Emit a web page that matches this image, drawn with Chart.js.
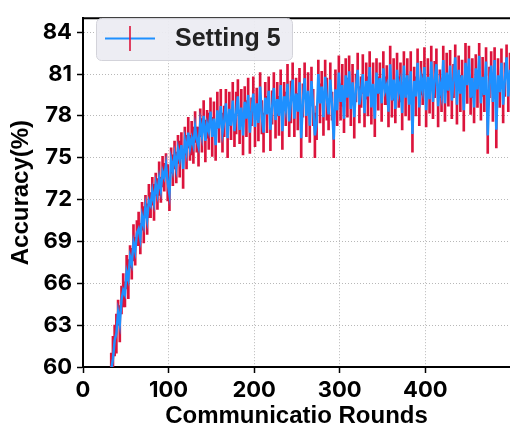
<!DOCTYPE html>
<html><head><meta charset="utf-8">
<script src="https://cdn.jsdelivr.net/npm/chart.js@4.4.1/dist/chart.umd.min.js"></script>
<style>html,body{margin:0;padding:0;background:#fff}canvas{display:block}</style>
</head><body>
<canvas id="c" width="510" height="431"></canvas>
<script>
const firstRound = 29;
const roundStep = 2;
const accuracy = [
56.8,58.3,59.8,60.6,61.9,62.4,63.9,63.1,64.8,65.5,
65.2,66.8,66.3,67.9,67.4,68.9,68.3,69.6,69.9,69.2,
70.8,70.2,71.5,70.6,71.9,71.6,72.6,71.8,73.1,72.4,
73.5,72.7,74.0,73.6,74.5,73.2,72.4,74.8,74.1,75.2,
74.3,75.6,74.9,75.9,74.2,76.2,75.4,76.8,75.7,76.4,
75.9,77.2,76.3,75.8,77.5,76.6,78.0,76.2,77.4,76.9,
78.3,76.5,77.8,75.9,78.4,77.1,78.7,76.8,77.6,78.9,
76.4,78.5,77.3,79.1,76.9,78.2,79.4,77.0,78.6,76.6,
79.0,77.8,79.5,76.8,78.3,79.6,77.2,78.9,77.5,80.1,
77.9,76.8,79.3,78.1,79.8,77.0,78.6,80.0,77.7,79.2,
78.0,80.2,76.9,79.4,78.5,80.3,77.6,79.0,80.6,77.8,
79.6,78.3,80.4,76.4,79.1,80.7,78.0,79.8,77.3,80.5,
78.6,76.6,77.5,81.0,78.9,80.1,77.9,80.8,79.2,78.1,
80.6,78.7,76.3,79.9,78.4,81.1,79.0,80.2,77.8,80.9,
79.3,81.2,78.5,80.4,77.9,80.0,81.3,78.8,79.7,81.0,
78.2,80.5,79.4,81.5,78.6,80.3,77.8,81.1,79.6,80.7,
78.9,81.4,79.8,80.2,78.3,81.7,79.1,80.6,78.5,81.3,
79.7,80.4,78.2,81.6,79.3,80.9,78.8,81.2,76.7,80.5,
79.4,81.8,78.6,80.7,79.9,81.5,78.4,80.8,79.2,81.9,
79.0,80.6,81.7,78.7,80.3,79.5,82.0,78.9,81.1,79.8,
81.6,79.1,80.5,82.2,78.8,81.3,79.6,80.9,78.4,81.8,
80.2,82.1,79.3,80.7,78.6,81.4,79.9,82.3,78.9,80.8,
79.5,81.9,76.6,80.4,81.6,79.0,82.0,77.0,80.9,79.7,
81.8,78.8,80.6,82.2,79.4,81.3
];
const errorBar = [
1.3,1.5,1.2,1.6,1.1,1.4,0.9,1.3,1.0,1.2,
0.9,1.2,1.4,0.8,1.1,1.3,1.0,0.9,1.2,1.1,
1.0,1.3,0.8,1.1,1.2,0.9,1.0,1.3,0.8,1.1,
1.2,0.9,1.1,1.0,0.8,1.3,1.2,0.9,1.1,1.0,
1.1,1.0,1.3,0.9,1.4,1.0,1.2,1.1,0.9,1.2,
1.3,1.1,0.9,1.4,1.0,1.2,1.1,1.5,1.0,1.3,
1.0,1.4,1.2,1.1,1.3,1.0,1.2,1.4,1.1,1.0,
1.4,1.2,1.0,1.3,1.1,1.5,1.2,1.0,1.3,1.4,
1.1,1.3,1.2,1.5,1.0,1.2,1.4,1.1,1.3,1.0,
1.2,1.4,1.1,1.3,1.0,1.5,1.2,1.1,1.3,1.2,
1.4,1.1,1.3,1.0,1.2,1.4,1.1,1.5,1.2,1.3,
1.1,1.3,1.0,1.4,1.2,1.1,1.5,1.3,1.2,1.0,
1.3,1.6,1.2,1.0,1.4,1.1,1.3,1.2,1.5,1.1,
1.2,1.0,1.3,1.4,1.1,1.2,1.3,1.5,1.0,1.2,
1.4,1.1,1.2,1.3,1.5,1.0,1.2,1.3,1.1,1.4,
1.0,1.3,1.4,1.1,1.2,1.5,1.3,1.0,1.2,1.1,
1.3,1.2,1.0,1.4,1.1,1.3,1.2,1.5,1.0,1.2,
1.1,1.4,1.2,1.0,1.3,1.2,1.1,1.4,1.3,1.0,
1.4,1.0,1.3,1.2,1.1,1.4,1.2,1.3,1.0,1.1,
1.2,1.3,1.1,1.5,1.0,1.2,1.0,1.3,1.4,1.1,
1.1,1.3,1.2,0.9,1.4,1.0,1.3,1.1,1.5,1.4,
1.3,0.9,1.2,1.4,1.1,1.0,1.3,0.9,1.2,1.4,
1.2,1.0,1.3,1.1,1.0,1.4,0.9,1.3,1.2,1.1,
1.0,1.3,1.2,0.9,1.1,1.2
];
const xTicks = [0, 100, 200, 300, 400];
const yTicks = [60, 63, 66, 69, 72, 75, 78, 81, 84];
const seriesLabel = 'Setting 5';
const xTitle = 'Communicatio Rounds';
const yTitle = 'Accuracy(%)';

const rounds = accuracy.map((_, i) => firstRound + roundStep * i);
const linePts = rounds.map((r, i) => ({x: r, y: accuracy[i]}));
const barPts = rounds.map((r, i) => ({x: r, y: [accuracy[i] - errorBar[i], accuracy[i] + errorBar[i]]}));

const BLUE = '#1e90ff', RED = '#dc143c';
const tickFont = {family: 'Inter', weight: 'bold', size: 22};
const titleFont = {family: 'Liberation Sans', weight: 'bold', size: 24};

const framePlugin = {
  id: 'frame',
  afterDraw(chart) {
    const {ctx, chartArea: a} = chart;
    ctx.save();
    ctx.strokeStyle = '#000'; ctx.lineWidth = 2;
    ctx.beginPath(); ctx.moveTo(a.left - 1, a.top); ctx.lineTo(a.right, a.top); ctx.stroke();
    // legend
    const lx = 96.5, ly = 18.5, lw = 196, lh = 42;
    ctx.beginPath(); ctx.roundRect(lx, ly, lw, lh, 5);
    ctx.fillStyle = 'rgba(236,236,242,0.93)'; ctx.fill();
    ctx.strokeStyle = '#d3d3da'; ctx.lineWidth = 1; ctx.stroke();
    ctx.strokeStyle = BLUE; ctx.lineWidth = 2;
    ctx.beginPath(); ctx.moveTo(105, 38.5); ctx.lineTo(155, 38.5); ctx.stroke();
    ctx.strokeStyle = RED; ctx.lineWidth = 1.6;
    ctx.beginPath(); ctx.moveTo(130, 26); ctx.lineTo(130, 51); ctx.stroke();
    ctx.fillStyle = '#222';
    ctx.font = 'bold 25px "Liberation Sans"';
    ctx.textBaseline = 'middle'; ctx.textAlign = 'left';
    ctx.fillText(seriesLabel, 175, 39);
    ctx.restore();
  }
};

new Chart(document.getElementById('c'), {
  type: 'bar',
  data: {
    datasets: [
      {type: 'line', label: seriesLabel, data: linePts, borderColor: BLUE, borderWidth: 2.5,
       pointRadius: 0, tension: 0, order: 0},
      {type: 'bar', label: 'err', data: barPts, backgroundColor: RED, borderWidth: 0,
       barThickness: 2, order: 1}
    ]
  },
  options: {
    responsive: false, animation: false, devicePixelRatio: 1,
    layout: {padding: {top: 5, left: 0, right: 0, bottom: 0}},
    plugins: {legend: {display: false}, tooltip: {enabled: false}},
    scales: {
      x: {
        type: 'linear', min: 0, max: 499, offset: false,
        afterFit: s => { s.height = 64; },
        afterBuildTicks: s => { s.ticks = xTicks.map(v => ({value: v})); },
        grid: {offset: false, color: '#b8b8b8', lineWidth: 1, tickLength: 6, tickColor: '#000', tickWidth: 1.5},
        border: {display: true, color: '#000', width: 2, dash: [1, 2]},
        ticks: {font: tickFont, color: '#000', padding: 4, maxRotation: 0},
        title: {display: true, text: xTitle, font: titleFont, color: '#000', padding: {top: 0, bottom: 0}}
      },
      y: {
        type: 'linear', min: 60, max: 85,
        afterFit: s => { s.width = 83; },
        afterBuildTicks: s => { s.ticks = yTicks.map(v => ({value: v})); },
        grid: {color: '#b8b8b8', lineWidth: 1, tickLength: 6, tickColor: '#000', tickWidth: 1.5},
        border: {display: true, color: '#000', width: 2, dash: [1, 2]},
        ticks: {font: tickFont, color: '#000', padding: 5},
        title: {display: true, text: yTitle, font: titleFont, color: '#000', padding: {top: 7, bottom: 0}}
      }
    }
  },
  plugins: [framePlugin]
});
</script>
</body></html>
